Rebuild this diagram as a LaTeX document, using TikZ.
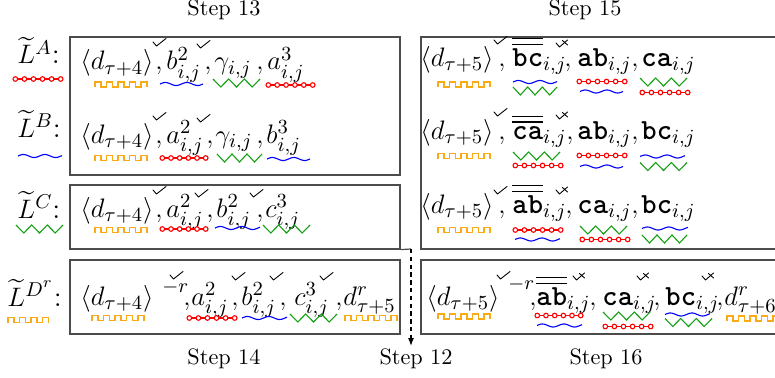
\documentclass[tikz,border=0pt]{standalone}
\usepackage{amsmath,amssymb}
\usetikzlibrary{fit,arrows.meta}
\definecolor{myorange}{RGB}{250,170,20}
\definecolor{mygreen}{RGB}{20,160,20}
\newcommand\tw[1]{\text{\ttfamily\bfseries #1}}
\tikzset{
  tm/.style={anchor=base west, inner sep=0pt, font=\fontsize{13.1}{16}\selectfont},
  box/.style={draw=black!70, line width=0.55pt, inner sep=0pt},
  boxline/.style={draw=black!70, line width=0.55pt},
  steplbl/.style={inner sep=0pt, font=\normalsize},
  chkline/.style={line width=0.4pt, line cap=round, line join=round},
  deco/.style={line width=0.5pt},
}
% orange square wave: x, y(center), number of pulses
\newcommand\sqw[3]{\draw[deco,myorange] (#1,#2+2.5) \foreach \k in {2,...,#3}{ -- ++(0,-5) -- ++(6,0) -- ++(0,5) -- ++(5.5,0)} -- ++(0,-5) -- ++(6,0) -- ++(0,5);}
% blue wave: x1, x2, y
\newcommand\wv[3]{\draw[deco,blue] plot[smooth, domain=0:{#2-#1}, samples=40] ({\x+#1},{#3-1.5*sin(\x*16.744)});}
% green zigzag: x1, x2, y
\newcommand\zz[3]{\draw[deco,mygreen] (#1,#3-4) \foreach \k in {1,...,6}{ -- ({#1+\k*(#2-#1)/6},{#3+4*(1-2*mod(\k+1,2))})};}
% red chain: x1, x2, y
\newcommand\ch[3]{\draw[deco,red] (#1+2.3,#3) -- (#2-2.3,#3);
  \foreach \k in {0,...,5} \draw[deco,red,fill=white] ({#1+2.3+\k*(#2-#1-4.6)/5},#3) circle[radius=2.3];}
% check mark and crossed check mark
\newcommand\chk[2]{\draw[chkline] (#1,#2) -- ++(3.5,4) -- ++(9.5,-7.5);}
\newcommand\xchk[2]{\draw[chkline] (#1,#2) -- ++(3.5,4) -- ++(8,-7); \draw[chkline] (#1+6.5,#2-2.5) -- ++(5,4.5);}
\begin{document}
\begin{tikzpicture}[x=0.449pt,y=-0.449pt]
\clip (0,0) rectangle (775,378);
% boxes
\node[box, fit={(70,37) (400,175)}] (boxAB) {};
\node[box, fit={(70,185) (400,249)}] (boxC) {};
\node[box, fit={(70,260) (400,334)}] (boxD) {};
\node[box, fit={(421,37) (800,249)}] (boxR) {};
\node[box, fit={(421,260) (800,334)}] (boxRD) {};
% step labels
\node[steplbl] (st13) at (224,10) {Step 13};
\node[steplbl] (st15) at (585,10) {Step 15};
\node[steplbl] (st14) at (224,359) {Step 14};
\node[steplbl] (st12) at (416,359) {Step 12};
\node[steplbl] (st16) at (606,359) {Step 16};
\coordinate (turn) at (411,249);
\coordinate (arrEnd) at (411,346);
\draw[boxline] (boxC.south east) -- (turn);
\draw[line width=0.5pt, dash pattern=on 2pt off 1.5pt, -{Latex[length=3.5pt,width=2.6pt]}] (turn) -- (arrEnd);

% ---------- Left row A ----------
\node[tm] (lA) at (17,64) {$\widetilde{L}^{A}$:};
\node[tm] (a1) at (80,70) {$\langle d_{\tau+4}\rangle$};
\node[tm] (a1c) at (155,70) {$,$};
\node[tm] (a2) at (166,70) {$b^2_{i,j}$};
\node[tm] (a2c) at (204,70) {$,$};
\node[tm] (a3) at (214,70) {$\gamma_{i,j}$};
\node[tm] (a3c) at (256,70) {$,$};
\node[tm] (a4) at (267,70) {$a^3_{i,j}$};
\ch{13}{63}{79}
\sqw{95}{84.5}{5}
\wv{160}{203}{84}
\zz{213}{260}{83}
\ch{266}{315}{85}
\chk{153}{42}
\chk{197}{44}

% ---------- Left row B ----------
\node[tm] (lB) at (17,137) {$\widetilde{L}^{B}$:};
\node[tm] (b1) at (80,143) {$\langle d_{\tau+4}\rangle$};
\node[tm] (b1c) at (155,143) {$,$};
\node[tm] (b2) at (166,143) {$a^2_{i,j}$};
\node[tm] (b2c) at (206,143) {$,$};
\node[tm] (b3) at (215,143) {$\gamma_{i,j}$};
\node[tm] (b3c) at (256,143) {$,$};
\node[tm] (b4) at (266,143) {$b^3_{i,j}$};
\wv{18}{62}{156}
\sqw{95}{158}{5}
\ch{160}{208}{158}
\zz{217}{262}{158}
\wv{267}{310}{159}
\chk{153}{116}
\chk{197}{118}

% ---------- Left row C ----------
\node[tm] (lC) at (17,218) {$\widetilde{L}^{C}$:};
\node[tm] (c1) at (80,217) {$\langle d_{\tau+4}\rangle$};
\node[tm] (c1c) at (155,217) {$,$};
\node[tm] (c2) at (166,217) {$a^2_{i,j}$};
\node[tm] (c2c) at (206,217) {$,$};
\node[tm] (c3) at (216,217) {$b^2_{i,j}$};
\node[tm] (c3c) at (256,217) {$,$};
\node[tm] (c4) at (265,217) {$c^3_{i,j}$};
\zz{16}{63}{229}
\sqw{95}{230}{5}
\ch{160}{208}{229}
\wv{215}{260}{228}
\zz{263}{310}{229}
\chk{153}{190}
\chk{195}{193}
\chk{250}{193}

% ---------- Left row D ----------
\node[tm] (lD) at (7,306) {$\widetilde{L}^{D^r}$:};
\node[tm] (d1) at (80,305) {$\langle d_{\tau+4}\rangle$};
\node[tm] (d1s) at (162,302) {${}^{-r}$};
\node[tm] (d1c) at (183,305) {$,$};
\node[tm] (d2) at (191,305) {$a^2_{i,j}$};
\node[tm] (d2c) at (231,305) {$,$};
\node[tm] (d3) at (241,305) {$b^2_{i,j}$};
\node[tm] (d3c) at (279,305) {$,$};
\node[tm] (d4) at (294,305) {$c^3_{i,j}$};
\node[tm] (d4c) at (335,305) {$,$};
\node[tm] (d5) at (343,305) {$d^r_{\tau+5}$};
\sqw{8}{320}{4}
\sqw{92}{318}{5}
\ch{187}{237}{318}
\wv{242}{287}{318}
\zz{290}{337}{318}
\sqw{345}{318}{5}
\chk{170}{275}
\chk{232}{276}
\chk{270}{276}
\chk{320}{276}

% ---------- Right row 1 ----------
\node[tm] (p1) at (420,66) {$\langle d_{\tau+5}\rangle$};
\node[tm] (p1c) at (498,66) {$,$};
\node[tm] (p2) at (512,66) {$\overline{\overline{\tw{bc}}}_{i,j}$};
\node[tm] (p2c) at (564,66) {$,$};
\node[tm] (p3) at (577,66) {$\tw{ab}_{i,j}$};
\node[tm] (p3c) at (631,66) {$,$};
\node[tm] (p4) at (641,66) {$\tw{ca}_{i,j}$};
\sqw{438}{84.5}{5}
\wv{513}{557}{82}
\zz{513}{557}{91}
\ch{577}{627}{81.5}
\wv{580}{623}{91.5}
\zz{640}{687}{82}
\ch{640}{690}{92.5}
\chk{494}{40}
\xchk{556}{43}

% ---------- Right row 2 ----------
\node[tm] (q1) at (420,139) {$\langle d_{\tau+5}\rangle$};
\node[tm] (q1c) at (498,139) {$,$};
\node[tm] (q2) at (512,139) {$\overline{\overline{\tw{ca}}}_{i,j}$};
\node[tm] (q2c) at (566,139) {$,$};
\node[tm] (q3) at (577,139) {$\tw{ab}_{i,j}$};
\node[tm] (q3c) at (631,139) {$,$};
\node[tm] (q4) at (641,139) {$\tw{bc}_{i,j}$};
\sqw{438}{156}{5}
\zz{513}{560}{156}
\ch{513}{563}{165.5}
\ch{577}{627}{155.5}
\wv{580}{623}{166.5}
\wv{640}{685}{156.5}
\zz{640}{687}{166.5}
\chk{494}{112}
\xchk{556}{115}

% ---------- Right row 3 ----------
\node[tm] (r1) at (420,213) {$\langle d_{\tau+5}\rangle$};
\node[tm] (r1c) at (498,213) {$,$};
\node[tm] (r2) at (512,213) {$\overline{\overline{\tw{ab}}}_{i,j}$};
\node[tm] (r2c) at (565,213) {$,$};
\node[tm] (r3) at (577,213) {$\tw{ca}_{i,j}$};
\node[tm] (r3c) at (631,213) {$,$};
\node[tm] (r4) at (641,213) {$\tw{bc}_{i,j}$};
\sqw{438}{230}{5}
\ch{513}{563}{230}
\wv{515}{560}{239.5}
\zz{580}{627}{230}
\ch{580}{630}{239.5}
\wv{642}{688}{228.5}
\zz{642}{687}{239}
\chk{494}{190}
\xchk{556}{190}

% ---------- Right row 4 ----------
\node[tm] (s1) at (426,305) {$\langle d_{\tau+5}\rangle$};
\node[tm] (s1s) at (508,299) {${}^{-r}$};
\node[tm] (s1c) at (529,305) {$,$};
\node[tm] (s2) at (536,305) {$\overline{\overline{\tw{ab}}}_{i,j}$};
\node[tm] (s2c) at (589,305) {$,$};
\node[tm] (s3) at (602,305) {$\tw{ca}_{i,j}$};
\node[tm] (s3c) at (653,305) {$,$};
\node[tm] (s4) at (665,305) {$\tw{bc}_{i,j}$};
\node[tm] (s4c) at (716,305) {$,$};
\node[tm] (s5) at (724,305) {$d^r_{\tau+6}$};
\sqw{438}{316.5}{5}
\ch{535}{583}{315.5}
\wv{537}{582}{325.5}
\zz{603}{650}{316}
\ch{603}{653}{326.5}
\wv{665}{710}{314.5}
\zz{665}{712}{322.5}
\sqw{727}{318.5}{5}
\chk{497}{275}
\xchk{573}{276}
\xchk{637}{276}
\xchk{702}{276}
\end{tikzpicture}
\end{document}
